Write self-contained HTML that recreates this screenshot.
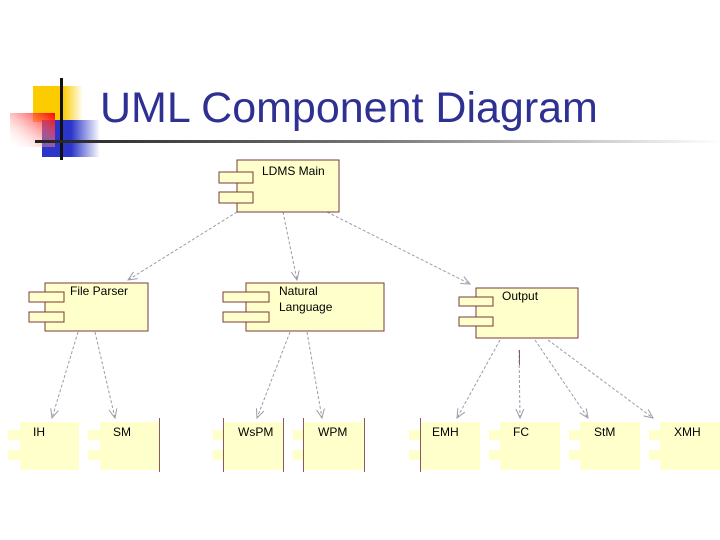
<!DOCTYPE html>
<html><head><style>
body{margin:0;width:720px;height:540px;background:#fff;overflow:hidden;position:relative;font-family:"Liberation Sans",sans-serif}
.t{position:absolute;left:100px;top:84px;font-size:43px;color:#2e3192;white-space:nowrap}
</style></head><body>
<svg width="720" height="540" style="position:absolute;left:0;top:0">
<defs>
<linearGradient id="hl" x1="0" x2="1"><stop offset="0" stop-color="#222"/><stop offset="0.5" stop-color="#777"/><stop offset="1" stop-color="#fff"/></linearGradient>
<linearGradient id="rd" x1="1" x2="0" y1="0" y2="1"><stop offset="0" stop-color="#f00"/><stop offset="1" stop-color="#fff" stop-opacity="0"/></linearGradient>
<linearGradient id="bl" x1="0" x2="1"><stop offset="0.5" stop-color="#2b35c9"/><stop offset="1" stop-color="#fff"/></linearGradient>
<linearGradient id="yl" x1="0" x2="1"><stop offset="0.6" stop-color="#fccc00"/><stop offset="1" stop-color="#fff"/></linearGradient>
<marker id="a" markerWidth="10" markerHeight="10" refX="9" refY="5" orient="auto"><path d="M0,1 L9,5 L0,9" fill="none" stroke="#a09aa8" stroke-width="1"/></marker>
</defs>
<rect x="33" y="86" width="50" height="36" fill="url(#yl)"/>
<rect x="42" y="120" width="58" height="37" fill="url(#bl)"/>
<rect x="10" y="113" width="45" height="34" fill="url(#rd)"/>
<rect x="60" y="78" width="3" height="82" fill="#111"/>
<rect x="35" y="140" width="685" height="3" fill="url(#hl)"/>
<g stroke="#a09aa8" stroke-width="1" stroke-dasharray="3,2" fill="none" marker-end="url(#a)">
<line x1="237" y1="212" x2="128" y2="280"/>
<line x1="283" y1="212" x2="297" y2="280"/>
<line x1="327" y1="212" x2="470" y2="284"/>
<line x1="78" y1="332" x2="52" y2="418"/>
<line x1="95" y1="332" x2="115" y2="418"/>
<line x1="290" y1="332" x2="257" y2="418"/>
<line x1="307" y1="332" x2="322" y2="418"/>
<line x1="500" y1="340" x2="457" y2="418"/>
<line x1="519" y1="350" x2="520" y2="418"/>
<line x1="535" y1="340" x2="588" y2="418"/>
<line x1="548" y1="340" x2="653" y2="418"/>
</g>
<g fill="#ffffcc" stroke="#7a3a3a" stroke-width="1">
<rect x="237" y="160" width="102" height="52"/><rect x="219" y="172" width="34" height="11"/><rect x="219" y="192" width="34" height="11"/>
<rect x="45" y="283" width="103" height="48"/><rect x="29" y="292" width="35" height="10"/><rect x="29" y="312" width="35" height="10"/>
<rect x="246" y="283" width="138" height="48"/><rect x="223" y="292" width="46" height="10"/><rect x="223" y="312" width="46" height="10"/>
<rect x="476" y="288" width="102" height="50"/><rect x="459" y="297" width="34" height="9"/><rect x="459" y="317" width="34" height="9"/>
</g>
<g fill="#ffffcc" stroke="none">
<rect x="20" y="422" width="59" height="48"/><rect x="8" y="430" width="12" height="10"/><rect x="8" y="450" width="12" height="10"/>
<rect x="100" y="422" width="59" height="48"/><rect x="88" y="430" width="12" height="10"/><rect x="88" y="450" width="12" height="10"/>
<rect x="223" y="422" width="60" height="48"/><rect x="213" y="430" width="10" height="10"/><rect x="213" y="450" width="10" height="10"/>
<rect x="303" y="422" width="61" height="48"/><rect x="293" y="430" width="10" height="10"/><rect x="293" y="450" width="10" height="10"/>
<rect x="420" y="422" width="60" height="48"/><rect x="409" y="430" width="11" height="10"/><rect x="409" y="450" width="11" height="10"/>
<rect x="500" y="422" width="60" height="48"/><rect x="489" y="430" width="11" height="10"/><rect x="489" y="450" width="11" height="10"/>
<rect x="580" y="422" width="60" height="48"/><rect x="569" y="430" width="11" height="10"/><rect x="569" y="450" width="11" height="10"/>
<rect x="660" y="422" width="60" height="48"/><rect x="649" y="430" width="11" height="10"/><rect x="649" y="450" width="11" height="10"/>
</g>
<g stroke="#8a5a5a" stroke-width="1">
<line x1="159.5" y1="418" x2="159.5" y2="472"/>
<line x1="223.5" y1="418" x2="223.5" y2="472"/><line x1="283.5" y1="418" x2="283.5" y2="472"/>
<line x1="303.5" y1="418" x2="303.5" y2="472"/><line x1="364.5" y1="418" x2="364.5" y2="472"/>
<line x1="420.5" y1="418" x2="420.5" y2="472"/>
<line x1="519.5" y1="350" x2="519.5" y2="365"/>
</g>
<g font-family="Liberation Sans,sans-serif" font-size="12" fill="#000">
<text x="262" y="175">LDMS Main</text>
<text x="70" y="295">File Parser</text>
<text x="279" y="295">Natural</text><text x="279" y="311">Language</text>
<text x="502" y="300">Output</text>
<text x="33" y="436">IH</text><text x="113" y="436">SM</text>
<text x="238" y="436">WsPM</text><text x="318" y="436">WPM</text>
<text x="432" y="436">EMH</text><text x="513" y="436">FC</text>
<text x="594" y="436">StM</text><text x="674" y="436">XMH</text>
</g>
</svg>
<div class="t">UML Component Diagram</div>
</body></html>
